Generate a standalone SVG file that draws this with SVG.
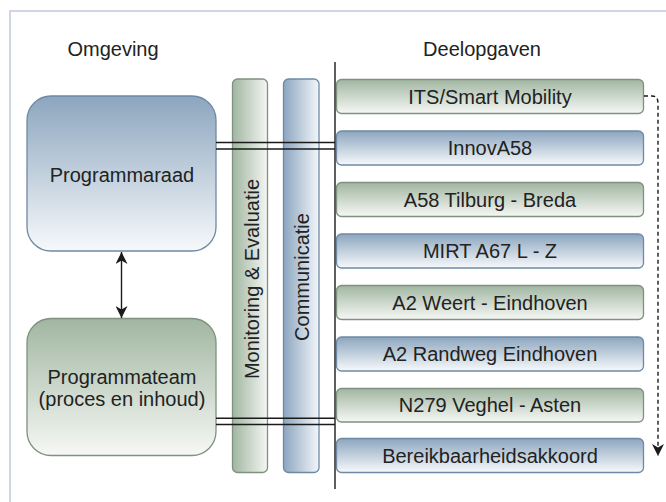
<svg xmlns="http://www.w3.org/2000/svg" width="666" height="502" viewBox="0 0 666 502">
  <defs>
    <linearGradient id="gBlueV" x1="0" y1="0" x2="0" y2="1">
      <stop offset="0" stop-color="#8ca6bf"/>
      <stop offset="1" stop-color="#f7f9fb"/>
    </linearGradient>
    <linearGradient id="gGreenV" x1="0" y1="0" x2="0" y2="1">
      <stop offset="0" stop-color="#a1b6a1"/>
      <stop offset="1" stop-color="#f6f8f5"/>
    </linearGradient>
    <linearGradient id="gBlueH" x1="0" y1="0" x2="1" y2="0">
      <stop offset="0" stop-color="#8ca6bf"/>
      <stop offset="1" stop-color="#f3f6f9"/>
    </linearGradient>
    <linearGradient id="gGreenH" x1="0" y1="0" x2="1" y2="0">
      <stop offset="0" stop-color="#a1b6a1"/>
      <stop offset="1" stop-color="#f4f6f3"/>
    </linearGradient>
    <marker id="headSolid" viewBox="0 0 10 10" refX="10" refY="5" markerWidth="14" markerHeight="12" markerUnits="userSpaceOnUse" orient="auto-start-reverse">
      <path d="M0,0 L10,5 L0,10 L3,5 Z" fill="#1a1a1a"/>
    </marker>
    <marker id="headDash" viewBox="0 0 10 10" refX="10" refY="5" markerWidth="13" markerHeight="12" markerUnits="userSpaceOnUse" orient="auto">
      <path d="M0,0 L10,5 L0,10 L3,5 Z" fill="#1a1a1a"/>
    </marker>
  </defs>
  <style>
    text { font-family: "Liberation Sans", Arial, sans-serif; font-size: 20px; fill: #222; text-anchor: middle; dominant-baseline: central; }
    .blue { fill: url(#gBlueV); stroke: #6f89a5; stroke-width: 1.3; }
    .green { fill: url(#gGreenV); stroke: #7f917f; stroke-width: 1.3; }
    .pillarBlue { fill: url(#gBlueH); stroke: #6f89a5; stroke-width: 1.3; }
    .pillarGreen { fill: url(#gGreenH); stroke: #7f917f; stroke-width: 1.3; }
    .link { stroke: #1a1a1a; stroke-width: 1.4; fill: none; }
  </style>

  <rect width="666" height="502" fill="#ffffff"/>
  <!-- frame -->
  <rect x="10" y="11" width="700" height="600" fill="none" stroke="#c3cedd" stroke-width="1.6"/>

  <!-- column headings -->
  <text x="113" y="49">Omgeving</text>
  <text x="482" y="49">Deelopgaven</text>

  <!-- left side -->
  <g id="programmaraad">
    <rect class="blue" x="27" y="96" width="189" height="155" rx="24"/>
    <text x="122" y="175">Programmaraad</text>
  </g>
  <g id="programmateam">
    <rect class="green" x="27" y="318.5" width="189" height="137" rx="24"/>
    <text x="122" y="377">Programmateam</text>
    <text x="122" y="399">(proces en inhoud)</text>
  </g>

  <!-- cross-cutting pillars -->
  <g id="monitoring">
    <rect class="pillarGreen" x="232.5" y="79" width="35" height="393.5" rx="5"/>
    <text transform="translate(252,279) rotate(-90)">Monitoring &amp; Evaluatie</text>
  </g>
  <g id="communicatie">
    <rect class="pillarBlue" x="283.5" y="79" width="35.5" height="393.5" rx="5"/>
    <text transform="translate(301.5,277) rotate(-90)">Communicatie</text>
  </g>

  <!-- sub-tasks -->
  <g id="its">
    <rect class="green" x="336.5" y="79.5" width="307" height="34" rx="5"/>
    <text x="490" y="97">ITS/Smart Mobility</text>
  </g>
  <g id="innova58">
    <rect class="blue" x="336.5" y="131" width="307" height="34" rx="5"/>
    <text x="490" y="148">InnovA58</text>
  </g>
  <g id="a58">
    <rect class="green" x="336.5" y="182.5" width="307" height="34" rx="5"/>
    <text x="490" y="199.5">A58 Tilburg - Breda</text>
  </g>
  <g id="mirt">
    <rect class="blue" x="336.5" y="234" width="307" height="34" rx="5"/>
    <text x="490" y="251">MIRT A67 L - Z</text>
  </g>
  <g id="a2weert">
    <rect class="green" x="336.5" y="285.5" width="307" height="34" rx="5"/>
    <text x="490" y="302.5">A2 Weert - Eindhoven</text>
  </g>
  <g id="a2randweg">
    <rect class="blue" x="336.5" y="337" width="307" height="34" rx="5"/>
    <text x="490" y="354">A2 Randweg Eindhoven</text>
  </g>
  <g id="n279">
    <rect class="green" x="336.5" y="388.5" width="307" height="33.5" rx="5"/>
    <text x="490" y="405">N279 Veghel - Asten</text>
  </g>
  <g id="bereikbaarheid">
    <rect class="blue" x="336.5" y="438.5" width="307" height="34" rx="5"/>
    <text x="490" y="455.5">Bereikbaarheidsakkoord</text>
  </g>

  <!-- connectors -->
  <g id="connectors">
    <line class="link" x1="335" y1="62" x2="335" y2="489"/>
    <line class="link" x1="216" y1="142.5" x2="335" y2="142.5"/>
    <line class="link" x1="216" y1="149" x2="335" y2="149"/>
    <line class="link" x1="216" y1="418.3" x2="335" y2="418.3"/>
    <line class="link" x1="216" y1="424.5" x2="335" y2="424.5"/>
    <line class="link" x1="121.5" y1="252" x2="121.5" y2="318" marker-start="url(#headSolid)" marker-end="url(#headSolid)"/>
    <path class="link" d="M644,96 H652 Q658,96 658,103 V456" stroke-dasharray="4 3" marker-end="url(#headDash)"/>
  </g>
</svg>
